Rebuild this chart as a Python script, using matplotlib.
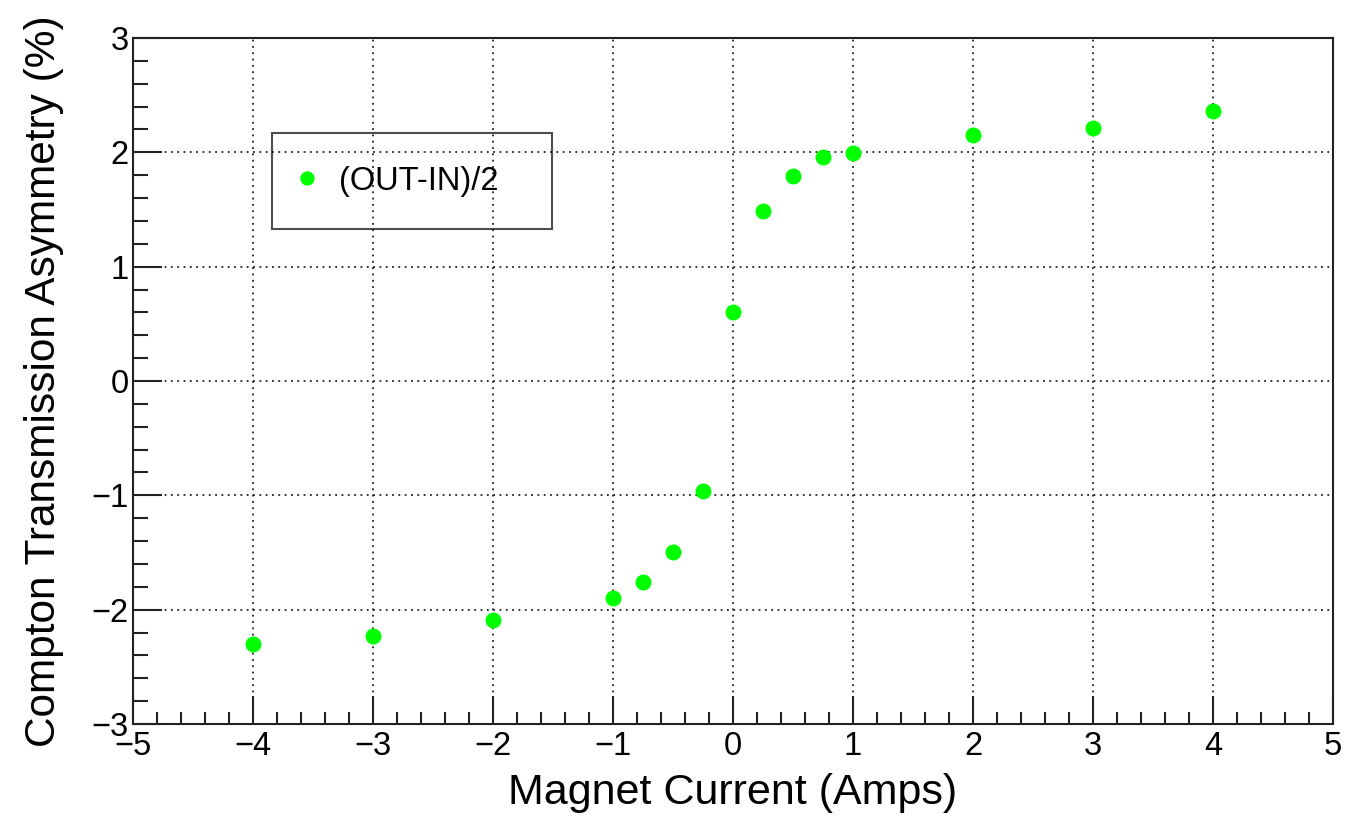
import matplotlib
matplotlib.use("Agg")
import matplotlib.pyplot as plt
from matplotlib.ticker import MultipleLocator

plt.rcParams["font.family"] = ["Liberation Sans", "DejaVu Sans"]

# magnet current scan, asymmetry (OUT-IN)/2
current = [-4, -3, -2, -1, -0.75, -0.5, -0.25, 0, 0.25, 0.5, 0.75, 1, 2, 3, 4]
asymmetry = [-2.30, -2.23, -2.09, -1.90, -1.76, -1.50, -0.96, 0.60,
             1.49, 1.79, 1.96, 1.99, 2.15, 2.21, 2.36]
series_label = "(OUT-IN)/2"

fig = plt.figure(figsize=(13.68, 8.26), dpi=100)
ax = fig.add_axes([0.0972, 0.1235, 0.8772, 0.8305])

ax.plot(current, asymmetry, "o", color="#00ff00", markersize=11.5,
        markeredgewidth=0, label=series_label, zorder=3)

ax.set_xlim(-5, 5)
ax.set_ylim(-3, 3)
ax.xaxis.set_major_locator(MultipleLocator(1))
ax.xaxis.set_minor_locator(MultipleLocator(0.2))
ax.yaxis.set_major_locator(MultipleLocator(1))
ax.yaxis.set_minor_locator(MultipleLocator(0.2))

ax.tick_params(which="both", direction="in", top=False, right=False,
               labelsize=23.5, color="#222222")
ax.tick_params(axis="x", which="major", length=20, width=1.5, pad=5)
ax.tick_params(axis="x", which="minor", length=9, width=1.5)
ax.tick_params(axis="y", which="major", length=21, width=1.5, pad=3)
ax.tick_params(axis="y", which="minor", length=10.5, width=1.5)
for side in ax.spines.values():
    side.set_linewidth(1.5)
    side.set_color("#222222")

ax.grid(True, which="major", linestyle=(0, (1, 2.5)), color="#222222",
        linewidth=1.3)

ax.set_xlabel("Magnet Current (Amps)", fontsize=31, labelpad=8)
ax.set_ylabel("Compton Transmission Asymmetry (%)", fontsize=30.5, labelpad=20)

leg = ax.legend(loc="upper left", bbox_to_anchor=(0.1158, 0.723, 0.2333, 0.1385),
                mode="expand", fontsize=23.5, frameon=True, fancybox=False,
                facecolor="none", edgecolor="#222222", borderpad=1.0,
                handlelength=0.12, handletextpad=0.95, markerscale=0.9,
                borderaxespad=0)
leg.get_frame().set_linewidth(1.5)

fig.savefig("out.png", dpi=100)
plt.close(fig)
